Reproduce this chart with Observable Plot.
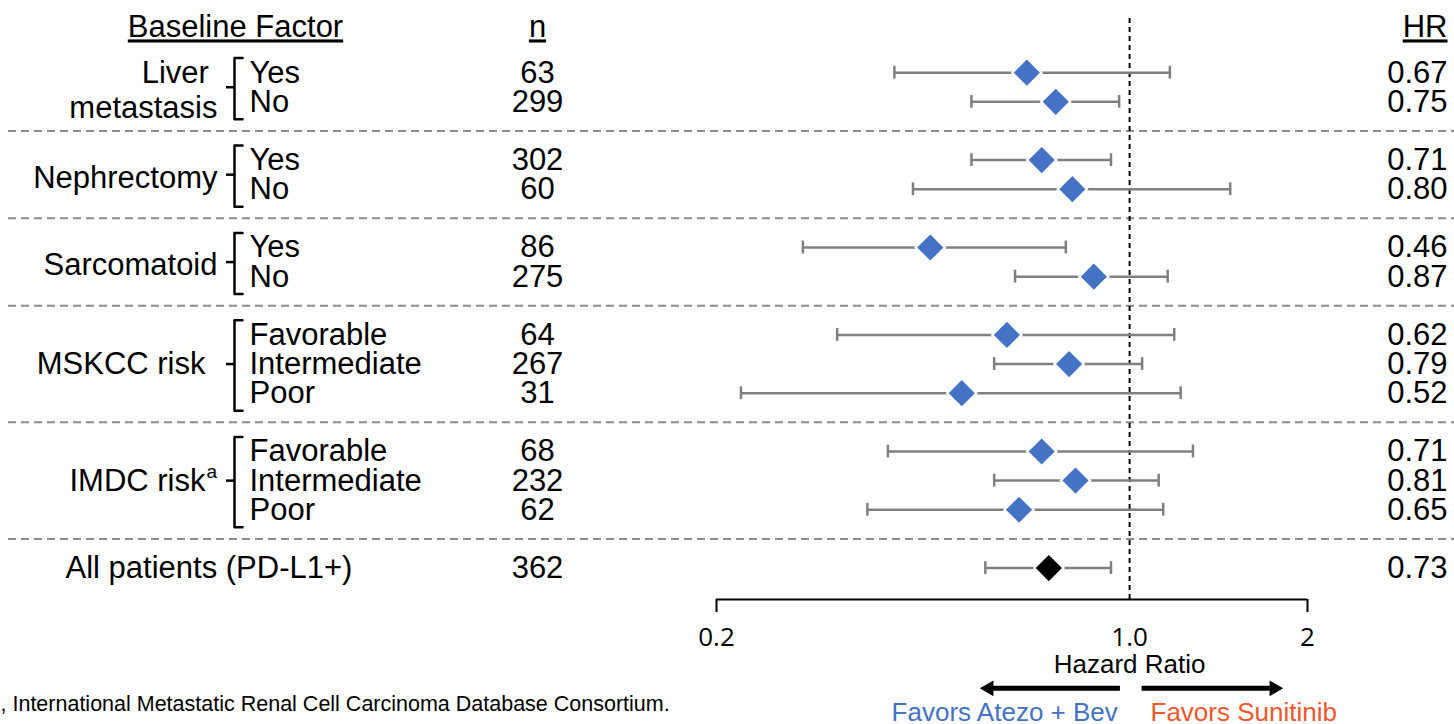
<!DOCTYPE html>
<html><head><meta charset="utf-8">
<script src="https://cdn.jsdelivr.net/npm/d3@7"></script>
<script src="https://cdn.jsdelivr.net/npm/@observablehq/plot@0.6"></script>
<style>
html,body{margin:0;padding:0;background:#fff;}
#wrap{position:relative;width:1454px;height:724px;overflow:hidden;background:#fff;}
#wrap svg{position:absolute;left:0;top:0;}
</style></head><body><div id="wrap"></div>
<script>
// ---------- data ----------
const factors = ["Liver\u00a0\nmetastasis", "Nephrectomy", "Sarcomatoid", "MSKCC risk", "IMDC risk", "All patients (PD-L1+)"];
const factorOf = [0, 0, 1, 1, 2, 2, 3, 3, 3, 4, 4, 4, 5];
const subgroups = ["Yes", "No", "Yes", "No", "Yes", "No", "Favorable", "Intermediate", "Poor", "Favorable", "Intermediate", "Poor", ""];
const nValues = [63, 299, 302, 60, 86, 275, 64, 267, 31, 68, 232, 62, 362];
const hrValues = [0.67, 0.75, 0.71, 0.80, 0.46, 0.87, 0.62, 0.79, 0.52, 0.71, 0.81, 0.65, 0.73];
const ciLow = [0.40, 0.54, 0.54, 0.43, 0.28, 0.64, 0.32, 0.59, 0.22, 0.39, 0.59, 0.36, 0.57];
const ciHigh = [1.17, 0.96, 0.93, 1.48, 0.78, 1.16, 1.19, 1.05, 1.22, 1.28, 1.12, 1.14, 0.93];
const xTicks = [0.2, 1.0, 2];
const xTickLabels = ["0.2", "1.0", "2"];
const headers = ["Baseline Factor", "n", "HR"];
const footnote = ", International Metastatic Renal Cell Carcinoma Database Consortium.";

// ---------- layout ----------
const W = 1454, H = 724;
const FONT = "'Liberation Sans', Arial, sans-serif";
const TICKFONT = "'Open Sans', 'Noto Sans', sans-serif";
const BLUE = "#4472C4", ORANGE = "#F0582B", GRAY = "#808080";
const yDomain = [-1.55, 18.08], yRange = [27, 599];
const headerRow = -1.55, axisRow = 18.08;
const col = {factor: 217, bar: 234, hook: 242, tick: 226, sub: 249, n: 537, hr: 1447, baseline: 235, all: 65};

const rows = subgroups.map((s, i) => ({
  i, sub: s, factor: factorOf[i], row: i + factorOf[i],
  n: nValues[i], hr: hrValues[i], lo: ciLow[i], hi: ciHigh[i], all: factorOf[i] === factors.length - 1
}));
const groups = factors.map((f, g) => {
  const r = rows.filter(d => d.factor === g);
  return {g, label: f, first: r[0].row, last: r[r.length - 1].row, mid: (r[0].row + r[r.length - 1].row) / 2, count: r.length};
});
const bracketed = groups.filter(d => d.count > 1);
const separators = groups.slice(0, -1).map(d => d.last + 1);
const bracketPts = bracketed.flatMap(d => [
  {g: d.g, x: col.hook, y: d.first - 0.5},
  {g: d.g, x: col.bar, y: d.first - 0.5},
  {g: d.g, x: col.bar, y: d.last + 0.6},
  {g: d.g, x: col.hook, y: d.last + 0.6}
]);
const fmt = d3.format(".2f");

// ---------- table plot ----------
const table = Plot.plot({
  width: W, height: H, margin: 0,
  x: {domain: [0, W], range: [0, W], axis: null},
  y: {domain: yDomain, range: yRange, axis: null},
  style: {fontFamily: FONT, background: "transparent"},
  marks: [
    Plot.ruleY(separators, {y: d => d, x1: () => 8, x2: () => W, stroke: "#8c8c8c", strokeWidth: 2, strokeDasharray: "8,5"}),
    // headers
    Plot.text([headers[0]], {x: () => col.baseline, y: () => headerRow, text: d => d, fontSize: 31, fill: "#000"}),
    Plot.text([headers[1]], {x: () => col.n, y: () => headerRow, text: d => d, fontSize: 31, fill: "#000"}),
    Plot.text([headers[2]], {x: () => col.hr, y: () => headerRow, text: d => d, fontSize: 31, textAnchor: "end", fill: "#000"}),
    // factor labels
    Plot.text(groups.filter(d => d.count > 1 && d.g !== 3 && d.g !== 4), {x: () => col.factor, y: "mid", text: "label", textAnchor: "end", fontSize: 31, lineHeight: 1.12, dy: 2, fill: "#000"}),
    Plot.text(groups.filter(d => d.g === 3 || d.g === 4), {x: () => col.factor - 12, y: "mid", text: "label", textAnchor: "end", fontSize: 31, fill: "#000"}),
    Plot.text(groups.filter(d => d.g === 4), {x: () => col.factor - 11, y: "mid", text: () => "a", textAnchor: "start", fontSize: 19, dy: -9, fill: "#000"}),
    Plot.text(groups.filter(d => d.count === 1), {x: () => col.all, y: "mid", text: "label", textAnchor: "start", fontSize: 31, fill: "#000"}),
    // brackets
    Plot.line(bracketPts, {x: "x", y: "y", z: "g", stroke: "#000", strokeWidth: 2.5, curve: "linear"}),
    Plot.ruleY(bracketed, {y: "mid", x1: () => col.tick, x2: () => col.bar, stroke: "#000", strokeWidth: 2.5}),
    // subgroup labels, n, HR
    Plot.text(rows.filter(d => d.sub), {x: () => col.sub, y: "row", text: "sub", textAnchor: "start", fontSize: 31, fill: "#000"}),
    Plot.text(rows, {x: () => col.n, y: "row", text: d => String(d.n), fontSize: 31, fill: "#000"}),
    Plot.text(rows, {x: () => col.hr, y: "row", text: d => fmt(d.hr), textAnchor: "end", fontSize: 31, fill: "#000"}),
    // footnote
    Plot.text([footnote], {x: () => 0, y: () => 21.68, text: d => d, textAnchor: "start", fontSize: 21.5, fill: "#000"})
  ]
});
d3.select(table).selectAll("text").filter(function () { return headers.includes(this.textContent); })
  .style("text-decoration", "underline");

// ---------- forest plot ----------
const forest = Plot.plot({
  width: W, height: H,
  marginLeft: 716, marginRight: W - 1307, marginTop: 0, marginBottom: 0,
  x: {type: "log", domain: [0.2, 2], axis: null},
  y: {domain: yDomain, range: yRange, axis: null},
  style: {fontFamily: FONT, background: "transparent"},
  marks: [
    Plot.ruleX([1], {y1: () => -1.86, y2: () => axisRow, stroke: "#000", strokeWidth: 2, strokeDasharray: "5,4"}),
    Plot.ruleY(rows, {y: "row", x1: "lo", x2: "hi", stroke: GRAY, strokeWidth: 2.5}),
    Plot.ruleX(rows, {x: "lo", y1: d => d.row - 0.22, y2: d => d.row + 0.22, stroke: GRAY, strokeWidth: 2.5}),
    Plot.ruleX(rows, {x: "hi", y1: d => d.row - 0.22, y2: d => d.row + 0.22, stroke: GRAY, strokeWidth: 2.5}),
    Plot.dot(rows, {x: "hr", y: "row", symbol: "diamond2", r: 14.6, fill: "#fff"}),
    Plot.dot(rows, {x: "hr", y: "row", symbol: "diamond2", r: 11.8, fill: d => d.all ? "#000" : BLUE}),
    // axis
    Plot.ruleY([axisRow], {x1: () => xTicks[0], x2: () => xTicks[xTicks.length - 1], stroke: "#000", strokeWidth: 2}),
    Plot.ruleX([xTicks[0], xTicks[xTicks.length - 1]], {x: d => d, y1: () => axisRow, y2: () => axisRow + 0.45, stroke: "#000", strokeWidth: 2}),
    Plot.text(xTicks, {x: d => d, y: () => 19.38, text: (d, i) => xTickLabels[i], fontSize: 26, fontFamily: TICKFONT, fill: "#000"}),
    Plot.text(["Hazard Ratio"], {x: () => 1, y: () => 20.31, text: d => d, fontSize: 26, fill: "#000"}),
    // arrows
    Plot.ruleY([21.13], {x1: () => 0.965, x2: () => 0.585, stroke: "#000", strokeWidth: 5}),
    Plot.ruleY([21.13], {x1: () => 1.05, x2: () => 1.73, stroke: "#000", strokeWidth: 5}),
    Plot.dot([0.578], {x: d => d, y: () => 21.13, symbol: "triangle2", r: 7.5, rotate: -90, fill: "#000"}),
    Plot.dot([1.756], {x: d => d, y: () => 21.13, symbol: "triangle2", r: 7.5, rotate: 90, fill: "#000"}),
    Plot.text(["Favors Atezo + Bev"], {x: () => 0.955, y: () => 21.96, text: d => d, textAnchor: "end", fontSize: 26, fill: BLUE}),
    Plot.text(["Favors Sunitinib"], {x: () => 1.085, y: () => 21.96, text: d => d, textAnchor: "start", fontSize: 26, fill: ORANGE})
  ]
});
const wrap = document.getElementById("wrap");
wrap.appendChild(table);
wrap.appendChild(forest);
</script></body></html>
